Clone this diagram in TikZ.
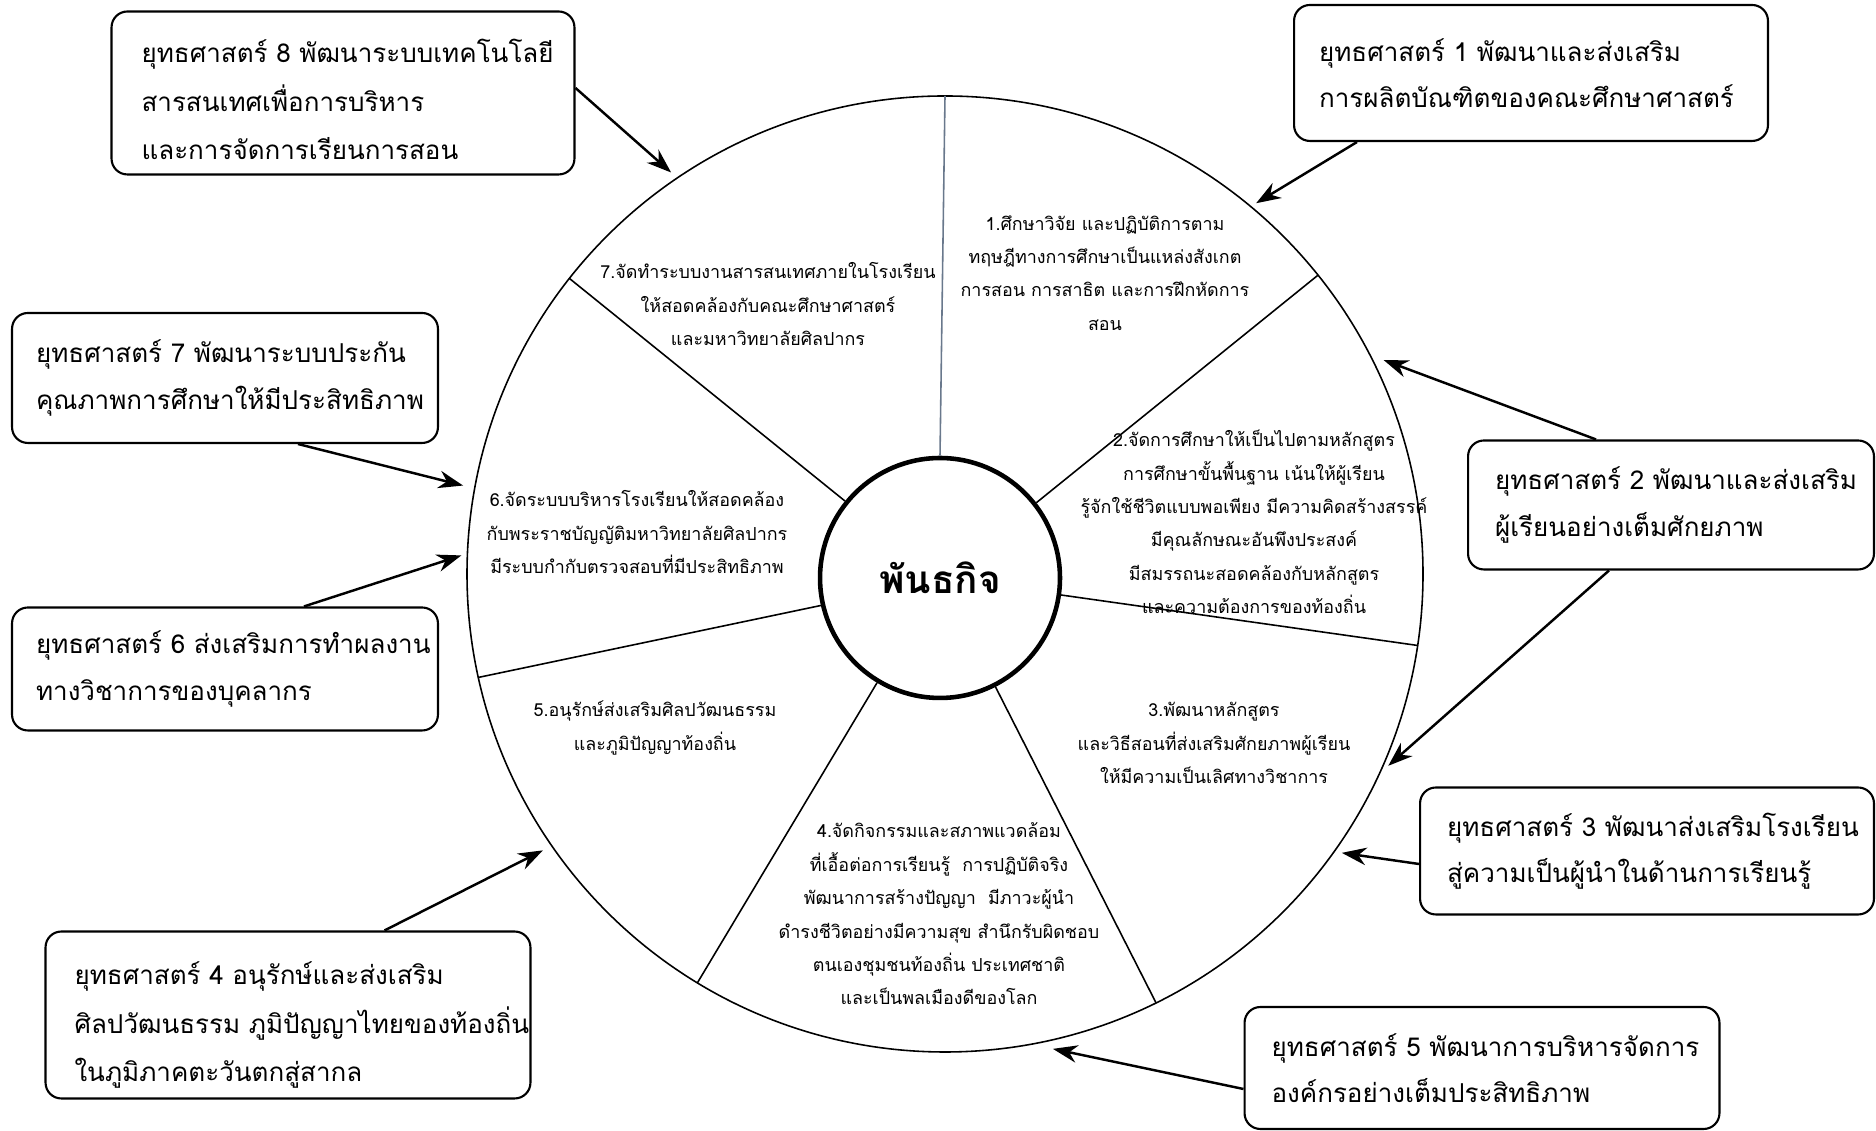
\documentclass[tikz,border=0pt]{standalone}
\usepackage{fontspec}
\newfontfamily\thaifont[Script=Thai]{Loma}
\usetikzlibrary{calc, arrows.meta}
\definecolor{spokegray}{RGB}{105,120,140}
\tikzset{
	goalbox/.style={draw, line width=1.2pt, rounded corners=9pt, align=left, inner xsep=0pt, inner ysep=0pt, font=\thaifont\fontsize{14.8}{26.5}\selectfont},
	lowtext/.style={text height=10pt, text depth=45pt, font=\thaifont\fontsize{14.8}{27.8}\selectfont},
	missiontext/.style={align=center, font=\thaifont\fontsize{10.2}{19}\selectfont},
	goalarrow/.style={-{Stealth[length=14pt,width=10pt]}, line width=1.4pt}
}

\begin{document}
\begin{tikzpicture}[x=0.02cm, y=0.02cm]
\useasboundingbox (0,0) rectangle (1876,1131);
\coordinate (c) at (945,557);
\draw[line width=0.9pt] (c) circle (478);
\node[draw, circle, line width=2.6pt, minimum size=4.8cm, font=\thaifont\bfseries\fontsize{22}{26}\selectfont] (mid) at (940,553){พันธกิจ};
\foreach \a/\col in {90/spokegray,38.7/black,-8.6/black,-63.8/black,-121.2/black,-167.5/black,141.8/black}{
	\draw[\col, line width=0.9pt] (mid.\a) -- ($(c)+(\a:478)$);
	}

\node[missiontext] (s1) at (1105,858){1.ศึกษาวิจัย และปฏิบัติการตาม\\ทฤษฎีทางการศึกษาเป็นแหล่งสังเกต\\การสอน การสาธิต และการฝึกหัดการ\\สอน};
\node[missiontext] (s2) at (1254,609){2.จัดการศึกษาให้เป็นไปตามหลักสูตร\\การศึกษาขั้นพื้นฐาน เน้นให้ผู้เรียน\\รู้จักใช้ชีวิตแบบพอเพียง มีความคิดสร้างสรรค์\\มีคุณลักษณะอันพึงประสงค์\\มีสมรรถนะสอดคล้องกับหลักสูตร\\และความต้องการของท้องถิ่น};
\node[missiontext] (s3) at (1214,388){3.พัฒนาหลักสูตร\\และวิธีสอนที่ส่งเสริมศักยภาพผู้เรียน\\ให้มีความเป็นเลิศทางวิชาการ};
\node[missiontext] (s4) at (939,217){4.จัดกิจกรรมและสภาพแวดล้อม\\ที่เอื้อต่อการเรียนรู้ ~การปฏิบัติจริง\\พัฒนาการสร้างปัญญา ~มีภาวะผู้นำ\\ดำรงชีวิตอย่างมีความสุข สำนึกรับผิดชอบ\\ตนเองชุมชนท้องถิ่น ประเทศชาติ\\และเป็นพลเมืองดีของโลก};
\node[missiontext] (s5) at (655,403){5.อนุรักษ์ส่งเสริมศิลปวัฒนธรรม\\และภูมิปัญญาท้องถิ่น};
\node[missiontext] (s6) at (637,599){6.จัดระบบบริหารโรงเรียนให้สอดคล้อง\\กับพระราชบัญญัติมหาวิทยาลัยศิลปากร\\มีระบบกำกับตรวจสอบที่มีประสิทธิภาพ};
\node[missiontext] (s7) at (768,827){7.จัดทำระบบงานสารสนเทศภายในโรงเรียน\\ให้สอดคล้องกับคณะศึกษาศาสตร์\\และมหาวิทยาลัยศิลปากร};

\node[goalbox, lowtext, minimum width=9.26cm, minimum height=3.26cm, text width=8.06cm] (b8) at (343,1038){ยุทธศาสตร์~8~พัฒนาระบบเทคโนโลยี\\สารสนเทศเพื่อการบริหาร\\และการจัดการเรียนการสอน};
\node[goalbox, minimum width=9.48cm, minimum height=2.72cm, text width=8.48cm] (b1) at (1531,1058){ยุทธศาสตร์~1~พัฒนาและส่งเสริม\\การผลิตบัณฑิตของคณะศึกษาศาสตร์};
\node[goalbox, minimum width=8.52cm, minimum height=2.6cm, text width=7.56cm] (b7) at (225,753){ยุทธศาสตร์~7~พัฒนาระบบประกัน\\คุณภาพการศึกษาให้มีประสิทธิภาพ};
\node[goalbox, minimum width=8.12cm, minimum height=2.58cm, text width=7.04cm] (b2) at (1671,626){ยุทธศาสตร์~2~พัฒนาและส่งเสริม\\ผู้เรียนอย่างเต็มศักยภาพ};
\node[goalbox, minimum width=8.52cm, minimum height=2.46cm, text width=7.56cm] (b6) at (225,462){ยุทธศาสตร์~6~ส่งเสริมการทำผลงาน\\ทางวิชาการของบุคลากร};
\node[goalbox, minimum width=9.08cm, minimum height=2.54cm, text width=8.0cm] (b3) at (1647,280){ยุทธศาสตร์~3~พัฒนาส่งเสริมโรงเรียน\\สู่ความเป็นผู้นำในด้านการเรียนรู้};
\node[goalbox, lowtext, minimum width=9.7cm, minimum height=3.34cm, text width=8.54cm] (b4) at (288,116){ยุทธศาสตร์~4~อนุรักษ์และส่งเสริม\\ศิลปวัฒนธรรม~ภูมิปัญญาไทยของท้องถิ่น\\ในภูมิภาคตะวันตกสู่สากล};
\node[goalbox, minimum width=9.5cm, minimum height=2.44cm, text width=8.42cm] (b5) at (1482,63){ยุทธศาสตร์~5~พัฒนาการบริหารจัดการ\\องค์กรอย่างเต็มประสิทธิภาพ};

\coordinate (e8) at ($(c)+(124.3:486)$);
\coordinate (e1) at ($(c)+(50:484)$);
\coordinate (e7) at ($(c)+(169.6:490)$);
\coordinate (e6) at ($(c)+(177.8:484)$);
\coordinate (e2a) at ($(c)+(26:488)$);
\coordinate (e2b) at ($(c)+(-23.4:483)$);
\coordinate (e3) at ($(c)+(-35.1:485)$);
\coordinate (e4) at ($(c)+(-145.5:488)$);
\coordinate (e5) at ($(c)+(-77.2:487)$);
\draw[goalarrow] ($(b8.east)+(0,5)$) -- (e8);
\draw[goalarrow] ($(b1.south west)+(64,0)$) -- (e1);
\draw[goalarrow] ($(b7.south west)+(287,0)$) -- (e7);
\draw[goalarrow] ($(b6.north west)+(293,0)$) -- (e6);
\draw[goalarrow] ($(b2.north west)+(129,0)$) -- (e2a);
\draw[goalarrow] ($(b2.south west)+(142,0)$) -- (e2b);
\draw[goalarrow] ($(b3.west)+(0,-13)$) -- (e3);
\draw[goalarrow] ($(b4.north west)+(340,0)$) -- (e4);
\draw[goalarrow] ($(b5.west)+(0,-21)$) -- (e5);
\end{tikzpicture}
\end{document}
